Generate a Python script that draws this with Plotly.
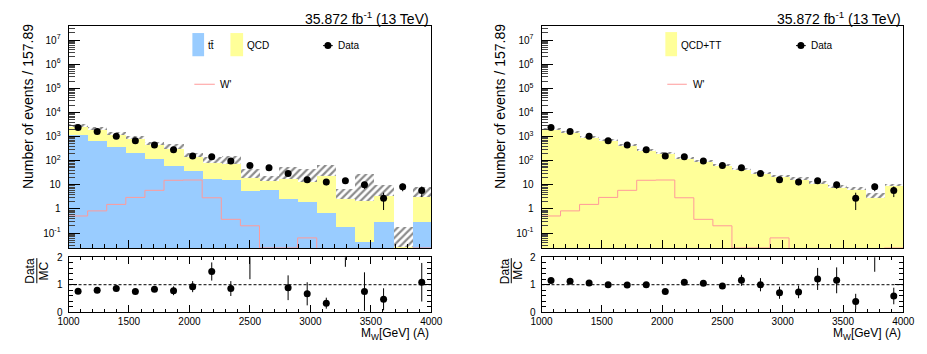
import numpy as np
import plotly.graph_objects as go

W, H = 927, 354

# 19 bins of 157.89 GeV between 1 and 4 TeV
edges = np.linspace(1000, 4000, 20)
centers = 0.5 * (edges[:-1] + edges[1:])
bin_w = edges[1] - edges[0]

# ---- left: separate ttbar / QCD stack ----
ttbar = [1100, 630, 363, 209, 112, 57, 37, 17.7, 14.8, 5.4, 5.8, 2.5, 1.85, 0.69,
         0.17, 0.043, 0.27, 0, 0.29]
mc_total_a = [2820, 2160, 1306, 903, 521, 393, 172, 107, 114, 30, 18.6, 34, 28, 45,
              4.6, 14.4, 6.3, 0.1, 5.4]
mc_err_a = [390, 200, 140, 97, 72, 100, 37, 29, 40, 12, 5, 17, 15.6, 22,
            2.1, 12.4, 2.85, 0.074, 2.45]
ratio_a = [0.76, 0.80, 0.86, 0.75, 0.84, 0.78, 0.93, 1.48, 0.86, 2.2, 2.74, 0.89,
           0.67, 0.33, 3.2, 0.75, 0.47, 83, 1.09]
ratio_err_a = [0.05, 0.05, 0.06, 0.05, 0.08, 0.16, 0.2, 0.33, 0.27, 1.0, 0.5, 0.45,
               0.42, 0.2, 1.55, 0.7, 0.4, 30, 0.7]

# ---- right: combined QCD+TT template ----
mc_total_b = [2043, 1442, 972, 670, 452, 282, 207, 133, 92, 66, 44, 29.3, 23, 17.8,
              12.2, 8.6, 7.2, 3.55, 9.6]
mc_err_b = [90, 65, 45, 30, 22, 15, 11, 8, 6, 5, 4, 3, 2.5, 2, 1.5, 1.2, 1.0, 0.85, 1.1]
ratio_b = [1.15, 1.13, 1.06, 1.0, 0.99, 1.0, 0.75, 1.09, 1.05, 0.95, 1.16, 1.0,
           0.71, 0.74, 1.21, 1.16, 0.39, 2.34, 0.59]
ratio_err_b = [0.04, 0.04, 0.04, 0.04, 0.05, 0.06, 0.06, 0.1, 0.09, 0.1, 0.2, 0.24,
               0.22, 0.23, 0.4, 0.47, 0.28, 0.87, 0.3]

# ---- shared: data and signal ----
data = [2350, 1630, 1030, 670, 447, 282, 155, 145, 97, 63, 51, 29.3, 16.3, 13.2,
        14.8, 10, 2.8, 8.3, 5.8]
data_err = [48, 40, 32, 26, 21, 17, 12.5, 12, 9.8, 7.9, 7.1, 5.4, 4.0, 3.6,
            3.8, 3.2, 1.9, 2.9, 2.7]
wprime = [0.51, 0.83, 1.54, 3.0, 5.9, 15.4, 15.8, 2.9, 0.37, 0.2, 0.024, 0.024,
          0.063, 0, 0, 0, 0, 0, 0.024]

BLUE = "#99ccff"
YELLOW = "#ffff99"
PINK = "#ff9a9a"
FONT = "Liberation Sans, Arial, Helvetica, sans-serif"

LOG_RANGE = [-1.64, 7.57]
floor = 10 ** LOG_RANGE[0]


def px(x):
    return x / W


def py(y):
    return 1 - y / H


fig = go.Figure()


def add_main(xa, ya, stack, total, err):
    # stacked templates, outermost first
    for vals, col in stack:
        fig.add_trace(go.Bar(x=centers, y=vals, width=bin_w, xaxis=xa, yaxis=ya,
                             marker=dict(color=col, line=dict(width=0)),
                             showlegend=False, hoverinfo="skip"))
    # MC uncertainty band
    lo = [t - e for t, e in zip(total, err)]
    fig.add_trace(go.Bar(x=centers, base=lo, y=[2 * e for e in err], width=bin_w,
                         xaxis=xa, yaxis=ya,
                         marker=dict(color="white", line=dict(width=0),
                                     pattern=dict(shape="/", fgcolor="#1a1a1a",
                                                  bgcolor="white", size=5,
                                                  solidity=0.45)),
                         showlegend=False, hoverinfo="skip"))
    sig = [v if v > 0 else floor for v in wprime]
    fig.add_trace(go.Scatter(x=list(edges), y=sig + [sig[-1]], mode="lines",
                             line=dict(color=PINK, width=1, shape="hv"),
                             xaxis=xa, yaxis=ya, showlegend=False))
    fig.add_trace(go.Scatter(x=centers, y=data, mode="markers", xaxis=xa, yaxis=ya,
                             marker=dict(color="black", size=7),
                             error_y=dict(type="data", array=data_err, width=0,
                                          thickness=1, color="black"),
                             showlegend=False))


def add_ratio(xa, ya, r, re):
    fig.add_shape(type="line", xref=xa, yref=ya, x0=1000, x1=4000, y0=1, y1=1,
                  line=dict(color="black", width=1, dash="3px,2px"))
    fig.add_trace(go.Scatter(x=centers, y=r, mode="markers", xaxis=xa, yaxis=ya,
                             marker=dict(color="black", size=7),
                             error_y=dict(type="data", array=re, width=0,
                                          thickness=1, color="black"),
                             showlegend=False))


add_main("x", "y", [(mc_total_a, YELLOW), (ttbar, BLUE)], mc_total_a, mc_err_a)
add_ratio("x2", "y2", ratio_a, ratio_err_a)
add_main("x3", "y3", [(mc_total_b, YELLOW)], mc_total_b, mc_err_b)
add_ratio("x4", "y4", ratio_b, ratio_err_b)

# axis styling
decades = list(range(-1, 8))
log_vals = [10.0 ** k for k in decades]
log_text = []
for k in decades:
    if k == 0:
        log_text.append("1")
    elif k == 1:
        log_text.append("10")
    else:
        log_text.append("10<sup>%d</sup>" % k)
minor_log = [m * 10.0 ** k for k in range(-2, 8) for m in range(2, 10)]

line_kw = dict(showline=True, linecolor="black", linewidth=1, showgrid=False,
               zeroline=False, tickcolor="black", tickwidth=1)


def main_axes(n, x0, x1):
    xa = dict(domain=[px(x0), px(x1)], anchor="y%d" % n if n > 1 else "y",
              range=[1000, 4000], ticks="inside", tick0=1000, dtick=500, ticklen=8,
              minor=dict(ticks="inside", dtick=100, ticklen=4, tickcolor="black"),
              showticklabels=False, mirror=True, **line_kw)
    ya = dict(domain=[py(251), py(21)], anchor="x%d" % n if n > 1 else "x",
              type="log", range=LOG_RANGE, tickmode="array", tickvals=log_vals,
              ticktext=log_text, ticks="inside", ticklen=11,
              minor=dict(ticks="inside", tickmode="array", tickvals=minor_log,
                         ticklen=6, tickcolor="#444444"),
              tickfont=dict(family=FONT, size=10, color="black"),
              ticklabelstandoff=5, mirror=True, **line_kw)
    return xa, ya


def ratio_axes(n, x0, x1):
    xa = dict(domain=[px(x0), px(x1)], anchor="y%d" % n, range=[1000, 4000],
              ticks="inside", tick0=1000, dtick=500, ticklen=7,
              minor=dict(ticks="inside", dtick=100, ticklen=3, tickcolor="black"),
              tickfont=dict(family=FONT, size=10, color="black"),
              mirror="allticks", **line_kw)
    ya = dict(domain=[py(317), py(260)], anchor="x%d" % n, range=[0, 2],
              tickmode="array", tickvals=[0, 1, 2], ticks="inside", ticklen=8,
              minor=dict(ticks="inside", dtick=0.2, ticklen=4, tickcolor="black"),
              tickfont=dict(family=FONT, size=10, color="black"),
              ticklabelstandoff=3, mirror="allticks", **line_kw)
    return xa, ya


xa1, ya1 = main_axes(1, 59, 431)
xa2, ya2 = ratio_axes(2, 59, 431)
xa3, ya3 = main_axes(3, 544, 915)
xa4, ya4 = ratio_axes(4, 544, 915)

annotations = []
shapes = []


def text(x, y, s, size, xanchor="left", angle=0):
    annotations.append(dict(x=px(x), y=py(y), xref="paper", yref="paper", text=s,
                            showarrow=False, xanchor=xanchor, yanchor="middle",
                            textangle=angle,
                            font=dict(family=FONT, size=size, color="black")))


def rect(x0, x1, y0, y1, color):
    shapes.append(dict(type="rect", xref="paper", yref="paper", x0=px(x0), x1=px(x1),
                       y0=py(y1), y1=py(y0), fillcolor=color, line=dict(width=0),
                       layer="above"))


def hline(x0, x1, y, color, width=1):
    shapes.append(dict(type="line", xref="paper", yref="paper", x0=px(x0), x1=px(x1),
                       y0=py(y), y1=py(y), line=dict(color=color, width=width),
                       layer="above"))


def vline(x, y0, y1):
    shapes.append(dict(type="line", xref="paper", yref="paper", x0=px(x), x1=px(x),
                       y0=py(y0), y1=py(y1), line=dict(color="black", width=1),
                       layer="above"))


def dot(x, y, r=3.5):
    shapes.append(dict(type="circle", xref="paper", yref="paper", xsizemode="pixel",
                       ysizemode="pixel", xanchor=px(x), yanchor=py(y),
                       x0=-r, x1=r, y0=-r, y1=r, fillcolor="black",
                       line=dict(color="black", width=0), layer="above"))


for (fx0, fx1, ytx, fx_data, fx_mc, fbar) in [(59, 431, 18, 19.5, 33.5, 26.5),
                                              (544, 915, 502, 506, 520, 513)]:
    text(fx1, 12, "35.872 fb<sup>-1</sup> (13 TeV)", 14, xanchor="right")
    text(ytx, 104, "Number of events / 157.89", 14, xanchor="center", angle=-90)
    text(fx_data, 274, "Data", 12, xanchor="center", angle=-90)
    text(fx_mc, 274, "MC", 12, xanchor="center", angle=-90)
    vline(fbar, 261, 287)
    text(fx1, 340, "M<sub>W</sub>[GeV] (A)", 12, xanchor="right")

# legend, left panel
rect(186, 198, 28, 52, BLUE)
text(200, 41, "tt\u0304", 10)
rect(225, 238, 28, 52, YELLOW)
text(240, 41, "QCD", 10)
hline(320, 330, 41, "black")
dot(325, 41)
text(333, 41, "Data", 10)
hline(188, 209, 81, PINK)
text(212, 81, "W'", 10)

# legend, right panel
rect(671, 683, 27, 52, YELLOW)
text(685, 41, "QCD+TT", 10)
hline(805, 815, 41, "black")
dot(810, 41)
text(818, 41, "Data", 10)
hline(673, 693, 81, PINK)
text(697, 81, "W'", 10)

fig.update_layout(
    width=W, height=H, margin=dict(l=0, r=0, t=0, b=0),
    paper_bgcolor="white", plot_bgcolor="white",
    barmode="overlay", bargap=0, showlegend=False,
    font=dict(family=FONT, size=10, color="black"),
    xaxis=xa1, yaxis=ya1, xaxis2=xa2, yaxis2=ya2,
    xaxis3=xa3, yaxis3=ya3, xaxis4=xa4, yaxis4=ya4,
    annotations=annotations, shapes=fig.layout.shapes + tuple(shapes),
)

fig.write_html("out.html")
